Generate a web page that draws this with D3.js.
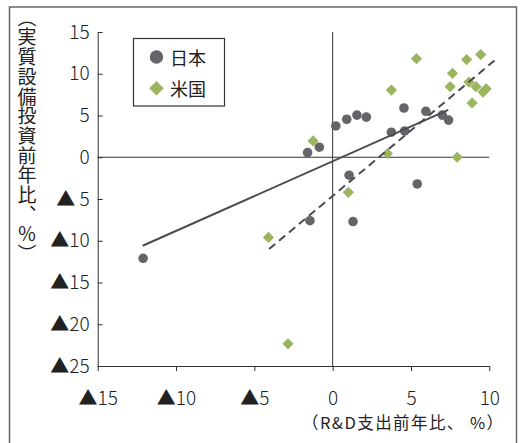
<!DOCTYPE html>
<html>
<head>
<meta charset="utf-8">
<script src="https://cdn.jsdelivr.net/npm/d3@7"></script>
<style>
  body { margin: 0; background: #fff; }
  svg text { font-family: "Noto Sans CJK JP", "Noto Sans", sans-serif; fill: #222; }
</style>
</head>
<body>
<div id="plot"></div>
<script>
// 日本: [R&D支出前年比, 実質設備投資前年比]
const japan = [
  [-12.1, -12.1], [-1.6, 0.55], [-0.85, 1.2], [0.2, 3.75], [0.9, 4.55],
  [1.55, 5.05], [2.15, 4.8], [3.75, 3.0], [4.6, 3.15], [4.55, 5.9],
  [5.95, 5.5], [7.0, 5.05], [7.4, 4.45], [1.05, -2.15], [5.4, -3.2],
  [-1.45, -7.6], [1.3, -7.7]
];
// 米国
const usa = [
  [-1.25, 1.95], [3.75, 8.05], [5.35, 11.8], [7.65, 10.05], [8.55, 11.7],
  [9.45, 12.3], [7.5, 8.45], [8.7, 9.0], [9.15, 8.45], [9.6, 7.8],
  [9.8, 8.2], [8.9, 6.5], [3.5, 0.45], [7.95, 0.0], [1.0, -4.2],
  [-4.1, -9.6], [-2.85, -22.35]
];
// 回帰線の端点
const japanTrend = [[-12.13, -10.6], [7.38, 5.67]];
const usaTrend = [[-4.06, -11.0], [10.5, 11.85]];

const xTicks = [-15, -10, -5, 0, 5, 10];
const yTicks = [15, 10, 5, 0, -5, -10, -15, -20, -25];
const seriesNames = ["日本", "米国"];

const w = 520;
const h = 443;
const grey = "#646569";
const green = "#9bb55f";

const xScale = d3.scaleLinear().domain([-15, 10]).range([97.7, 489.3]);
const yScale = d3.scaleLinear().domain([-25, 15]).range([366, 32]);

const svg = d3.select("#plot")
  .append("svg")
  .attr("width", w)
  .attr("height", h);

// 外枠
svg.append("rect")
  .attr("x", 9.5).attr("y", 7)
  .attr("width", 507).attr("height", 445)
  .attr("fill", "none")
  .attr("stroke", "#666")
  .attr("stroke-width", 1.5);

const xFmt = d => d < 0 ? "▲" + Math.abs(d) : String(d);
const yFmt = d => d < 0 ? (Math.abs(d) < 10 ? "▲ " : "▲") + Math.abs(d) : String(d);

const xAxis = d3.axisBottom(xScale).tickValues(xTicks).tickFormat(xFmt)
  .tickSizeInner(5).tickSizeOuter(0).tickPadding(21);
const yAxis = d3.axisLeft(yScale).tickValues(yTicks).tickFormat(yFmt)
  .tickSizeInner(-5).tickSizeOuter(0).tickPadding(8);

const gx = svg.append("g")
  .attr("transform", "translate(0," + yScale(-25) + ")")
  .call(xAxis);
const gy = svg.append("g")
  .attr("transform", "translate(" + xScale(-15) + ",0)")
  .call(yAxis);

[gx, gy].forEach(g => {
  g.select(".domain").attr("stroke", "#333");
  g.selectAll(".tick line").attr("stroke", "#333");
  g.selectAll(".tick text")
    .attr("font-size", 19)
    .attr("font-weight", 300)
    .attr("fill", "#222")
    .style("font-family", "'Noto Sans CJK JP', sans-serif");
});

// ゼロ線
svg.append("line")
  .attr("x1", xScale(0)).attr("x2", xScale(0))
  .attr("y1", yScale(15)).attr("y2", yScale(-25))
  .attr("stroke", "#333");
svg.append("line")
  .attr("x1", xScale(-15)).attr("x2", xScale(10))
  .attr("y1", yScale(0)).attr("y2", yScale(0))
  .attr("stroke", "#333");

//-----------------plot data-----------------------
svg.append("g").selectAll("circle")
  .data(japan)
  .enter()
  .append("circle")
    .attr("cx", d => xScale(d[0]))
    .attr("cy", d => yScale(d[1]))
    .attr("r", 4.8)
    .attr("fill", grey);

const diamond = (cx, cy, s) =>
  `M${cx},${cy - s}L${cx + s},${cy}L${cx},${cy + s}L${cx - s},${cy}Z`;

svg.append("g").selectAll("path")
  .data(usa)
  .enter()
  .append("path")
    .attr("d", d => diamond(xScale(d[0]), yScale(d[1]), 5.6))
    .attr("fill", green);

const line = d3.line().x(d => xScale(d[0])).y(d => yScale(d[1]));

svg.append("path")
  .attr("d", line(japanTrend))
  .attr("fill", "none")
  .attr("stroke", "#4b4c50")
  .attr("stroke-width", 2);
svg.append("path")
  .attr("d", line(usaTrend))
  .attr("fill", "none")
  .attr("stroke", "#4b4c50")
  .attr("stroke-width", 2)
  .attr("stroke-dasharray", "8,5");

// 凡例
const legend = svg.append("g");
legend.append("rect")
  .attr("x", 133.5).attr("y", 38.5)
  .attr("width", 91).attr("height", 67.5)
  .attr("fill", "#fff")
  .attr("stroke", "#333")
  .attr("stroke-width", 1.2);
legend.append("circle")
  .attr("cx", 156.5).attr("cy", 57)
  .attr("r", 6.7)
  .attr("fill", grey);
legend.append("path")
  .attr("d", diamond(156.5, 88.3, 7.3))
  .attr("fill", green);
legend.selectAll("text")
  .data(seriesNames)
  .enter()
  .append("text")
    .attr("x", 170)
    .attr("y", (d, i) => 57 + i * 31.3)
    .attr("dominant-baseline", "central")
    .attr("font-size", 18)
    .text(d => d);

// 軸タイトル
svg.append("text")
  .attr("x", 302)
  .attr("y", 429)
  .attr("font-size", 16.5)
  .attr("textLength", 201)
  .attr("lengthAdjust", "spacing")
  .text("（R&D支出前年比、 %）");

svg.append("text")
  .attr("x", 27)
  .attr("y", 8)
  .attr("font-size", 19)
  .attr("letter-spacing", 0.7)
  .style("writing-mode", "vertical-rl")
  .text("（実質設備投資前年比、％）");
</script>
</body>
</html>
